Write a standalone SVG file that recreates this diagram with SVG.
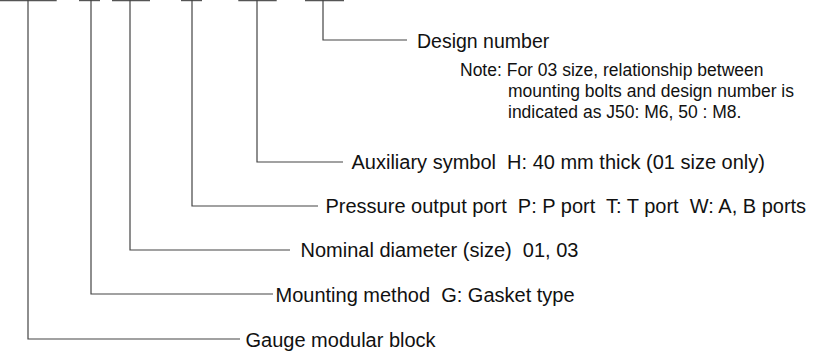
<svg xmlns="http://www.w3.org/2000/svg" width="813" height="354" viewBox="0 0 813 354">
<style>
.bar{stroke:#555;stroke-width:1.2;fill:none}
.con{stroke:#444;stroke-width:1.2;fill:none}
.lbl{font-family:"Liberation Sans",Arial,Helvetica,sans-serif;font-size:20px;fill:#111}
.dn{font-size:19.5px}
.note{font-family:"Liberation Sans",Arial,Helvetica,sans-serif;font-size:17.5px;fill:#111}
</style>
<rect width="813" height="354" fill="#fff"/>
<g id="code-bars">
<line class="bar" x1="0" y1="0.6" x2="56.7" y2="0.6"/>
<line class="bar" x1="79" y1="0.6" x2="100" y2="0.6"/>
<line class="bar" x1="112" y1="0.6" x2="150" y2="0.6"/>
<line class="bar" x1="181" y1="0.6" x2="202" y2="0.6"/>
<line class="bar" x1="238.3" y1="0.6" x2="276.7" y2="0.6"/>
<line class="bar" x1="305" y1="0.6" x2="344" y2="0.6"/>
</g>
<g id="connectors">
<polyline class="con" points="28,0 28,339 240,339"/>
<polyline class="con" points="91,0 91,294 273,294"/>
<polyline class="con" points="130,0 130,250 290,250"/>
<polyline class="con" points="192,0 192,206 318,206"/>
<polyline class="con" points="257,0 257,162 343,162"/>
<polyline class="con" points="323,0 323,40 407,40"/>
</g>
<g id="design-number">
<text class="lbl dn" x="417" y="47.5">Design number</text>
<text class="note" x="460" y="76" xml:space="preserve">Note: For 03 size, relationship between</text>
<text class="note" x="508" y="97">mounting bolts and design number is</text>
<text class="note" x="508" y="118">indicated as J50: M6, 50 : M8.</text>
</g>
<g id="auxiliary-symbol">
<text class="lbl" x="351.5" y="169" xml:space="preserve">Auxiliary symbol  H: 40 mm thick (01 size only)</text>
</g>
<g id="pressure-output-port">
<text class="lbl" x="325.5" y="213" xml:space="preserve">Pressure output port  P: P port  T: T port  W: A, B ports</text>
</g>
<g id="nominal-diameter">
<text class="lbl" x="300.5" y="257" xml:space="preserve">Nominal diameter (size)  01, 03</text>
</g>
<g id="mounting-method">
<text class="lbl" x="275.5" y="301.5" xml:space="preserve">Mounting method  G: Gasket type</text>
</g>
<g id="gauge-modular-block">
<text class="lbl" x="245.5" y="346.5">Gauge modular block</text>
</g>
</svg>
